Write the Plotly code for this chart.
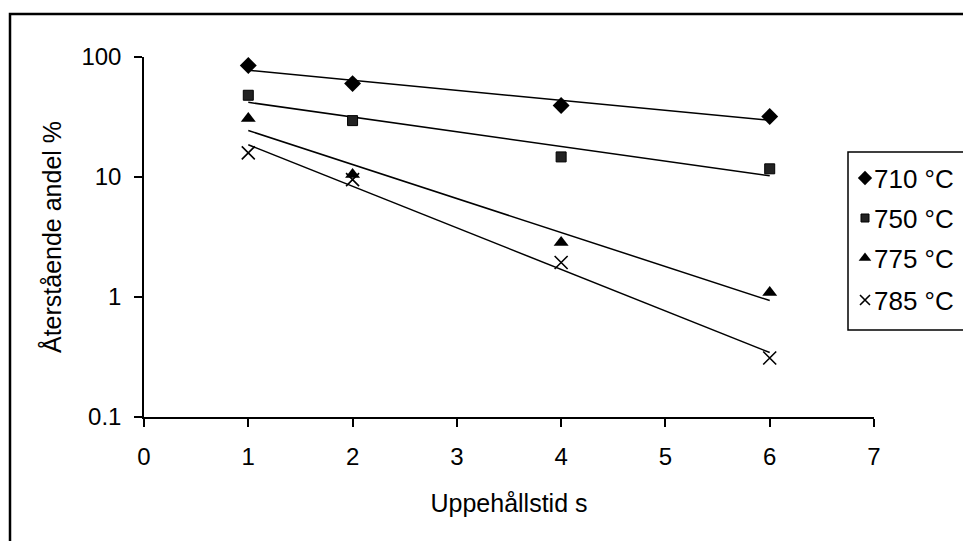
import numpy as np
import plotly.graph_objects as go

# ---- data ----
time_s = [1, 2, 4, 6]
series_names = ["710 °C", "750 °C", "775 °C", "785 °C"]
vals_710 = [85, 60, 39.4, 31.9]
vals_750 = [48, 29.5, 14.7, 11.7]
vals_775 = [30.7, 10.5, 2.84, 1.09]
vals_785 = [15.9, 9.5, 1.94, 0.31]
x_ticks = [0, 1, 2, 3, 4, 5, 6, 7]
y_tickvals = [0.1, 1, 10, 100]
y_ticktext = ["0.1", "1", "10", "100"]

series_vals = [vals_710, vals_750, vals_775, vals_785]
symbols = ["diamond", "square", "triangle-up", "x-thin"]
sizes = [13, 10, 13, 13]
legend_sizes = [11, 8, 11, 10]

W, H = 963, 541
plot_left, plot_right, plot_top, plot_bottom = 144, 874, 57, 417  # px


def sx(px):  # px -> paper x (paper = whole figure, margins are 0)
    return px / W


def sy(py):  # px -> paper y
    return 1 - py / H


FONT = "Liberation Sans, Arial, sans-serif"
fig = go.Figure()


def marker_style(sym, size):
    if sym == "x-thin":
        return dict(symbol="x-thin", size=size, color="black",
                    line=dict(color="black", width=1.6))
    if sym == "square":
        return dict(symbol="square", size=size, color="#222222",
                    line=dict(color="black", width=1))
    return dict(symbol=sym, size=size, color="black",
                line=dict(color="black", width=0))


# exponential trendlines (least-squares fit on log values), drawn from data
for vals in series_vals:
    xs = np.array(time_s, dtype=float)
    slope, icpt = np.polyfit(xs, np.log10(vals), 1)
    xt = np.linspace(xs.min(), xs.max(), 50)
    fig.add_trace(go.Scatter(
        x=xt, y=10 ** (icpt + slope * xt), mode="lines",
        line=dict(color="black", width=1.5), showlegend=False,
        hoverinfo="skip"))

for i, (name, vals) in enumerate(zip(series_names, series_vals)):
    fig.add_trace(go.Scatter(
        x=time_s, y=vals, mode="markers", name=name,
        marker=marker_style(symbols[i], sizes[i]), showlegend=False))

# ---- legend drawn in a pixel-space overlay (keys + labels) ----
legend_key_x = 865
legend_text_x = 872
legend_rows_y = [178, 218, 258, 300]
for i, name in enumerate(series_names):
    fig.add_trace(go.Scatter(
        x=[legend_key_x], y=[legend_rows_y[i]], mode="markers",
        marker=marker_style(symbols[i], legend_sizes[i]),
        xaxis="x2", yaxis="y2", showlegend=False, hoverinfo="skip",
        cliponaxis=False))
    fig.add_annotation(
        x=sx(legend_text_x), y=sy(legend_rows_y[i] + 1),
        xref="paper", yref="paper", xanchor="left", yanchor="middle",
        text=name, showarrow=False,
        font=dict(family=FONT, size=26, color="black"))

# outer chart frame (extends past right/bottom edge as in the reference)
fig.add_shape(type="rect", xref="paper", yref="paper",
              x0=sx(10), x1=sx(985), y0=sy(560), y1=sy(14),
              line=dict(color="black", width=2.5), layer="above")
# legend box
fig.add_shape(type="rect", xref="paper", yref="paper",
              x0=sx(848), x1=sx(985), y0=sy(330), y1=sy(152),
              line=dict(color="black", width=1.5), layer="above")

fig.update_layout(
    width=W, height=H,
    margin=dict(l=0, r=0, t=0, b=0, pad=0, autoexpand=False),
    paper_bgcolor="white", plot_bgcolor="rgba(0,0,0,0)",
    font=dict(family=FONT, size=24, color="black"),
    showlegend=False,
    xaxis=dict(domain=[sx(plot_left), sx(plot_right)], anchor="y",
               automargin=False,
               range=[0, 7], tickvals=x_ticks, showgrid=False,
               zeroline=False, showline=True, linecolor="black",
               linewidth=1.5, ticks="outside", ticklen=8,
               tickcolor="black", tickwidth=1.5, ticklabelstandoff=9,
               tickfont=dict(family=FONT, size=24, color="black"),
               title=dict(text="Uppehållstid s", standoff=26,
                          font=dict(family=FONT, size=25, color="black"))),
    yaxis=dict(domain=[sy(plot_bottom), sy(plot_top)], anchor="x",
               automargin=False,
               type="log", range=[-1, 2], tickvals=y_tickvals,
               ticktext=y_ticktext, showgrid=False, zeroline=False,
               showline=True, linecolor="black", linewidth=1.5,
               ticks="outside", ticklen=8, tickcolor="black",
               tickwidth=1.5, ticklabelstandoff=8,
               tickfont=dict(family=FONT, size=24, color="black"),
               title=dict(text="Återstående andel %", standoff=13,
                          font=dict(family=FONT, size=25, color="black"))),
    xaxis2=dict(domain=[0, 1], range=[0, W], visible=False,
                anchor="y2", fixedrange=True, automargin=False),
    yaxis2=dict(domain=[0, 1], range=[H, 0], visible=False,
                anchor="x2", fixedrange=True, automargin=False),
)

fig.write_html("out.html",
               config={"displayModeBar": False},
               post_script="document.body.style.margin='0px';"
                           "document.body.style.overflow='hidden';")
